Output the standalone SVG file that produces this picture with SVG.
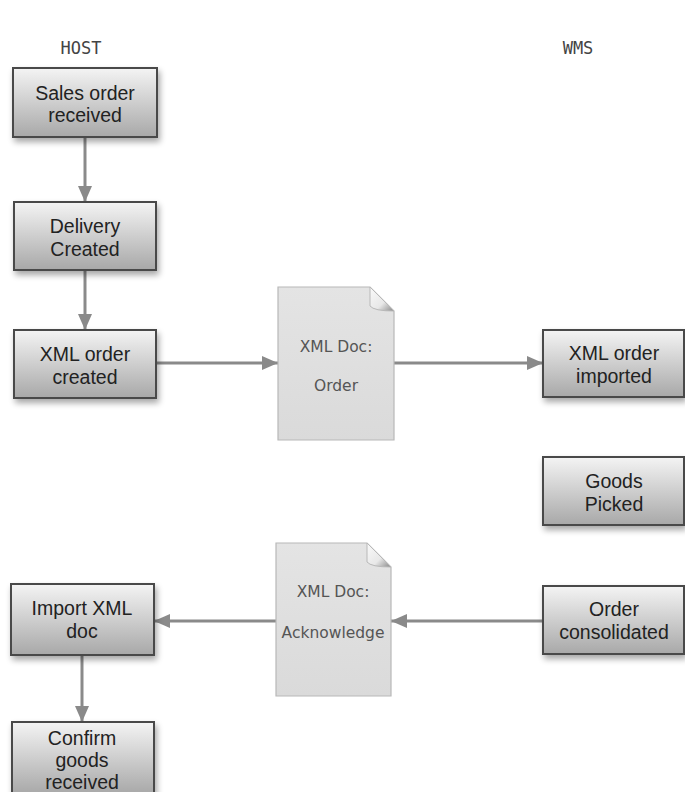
<svg xmlns="http://www.w3.org/2000/svg" width="685" height="792" viewBox="0 0 685 792">
<style>
.box{fill:url(#bg);stroke:#4a4a4a;stroke-width:2;filter:url(#sh)}
.bt{font-family:"Liberation Sans",Arial,sans-serif;font-size:19.5px;fill:#222;text-anchor:middle}
.doc{fill:url(#dg);stroke:#b8b8b8;stroke-width:1.2}
.dt{font-family:"DejaVu Sans",sans-serif;font-size:15.5px;fill:#555;text-anchor:middle}
.lane{font-family:"DejaVu Sans Mono",monospace;font-size:17px;fill:#444;text-anchor:middle}
.c{stroke:#8a8a8a;stroke-width:3;fill:none;marker-end:url(#ah)}
</style>
<defs>
<linearGradient id="bg" x1="0" y1="0" x2="0" y2="1"><stop offset="0" stop-color="#f4f4f4"/><stop offset="1" stop-color="#a8a8a8"/></linearGradient>
<linearGradient id="dg" x1="0" y1="0" x2="0" y2="1"><stop offset="0" stop-color="#e4e4e4"/><stop offset="1" stop-color="#dadada"/></linearGradient>
<linearGradient id="fold" x1="0" y1="0" x2="1" y2="1"><stop offset="0" stop-color="#fafafa"/><stop offset="0.6" stop-color="#e8e8e8"/><stop offset="1" stop-color="#888"/></linearGradient>
<filter id="sh" x="-20%" y="-20%" width="150%" height="160%"><feGaussianBlur in="SourceAlpha" stdDeviation="3"/><feOffset dx="2" dy="4"/><feComponentTransfer><feFuncA type="linear" slope="0.35"/></feComponentTransfer><feMerge><feMergeNode/><feMergeNode in="SourceGraphic"/></feMerge></filter>
<marker id="ah" viewBox="0 0 16 14" refX="16" refY="7" markerWidth="16" markerHeight="14" markerUnits="userSpaceOnUse" orient="auto"><path d="M0,0 L16,7 L0,14 z" fill="#8a8a8a"/></marker>
</defs>
<rect width="685" height="792" fill="#fff"/>
<text class="lane" x="81" y="54">HOST</text>
<text class="lane" x="578" y="54">WMS</text>
<g id="connectors">
<line class="c" x1="85" y1="138" x2="85" y2="202"/>
<line class="c" x1="85" y1="271" x2="85" y2="330"/>
<line class="c" x1="157" y1="363" x2="278" y2="363"/>
<line class="c" x1="394" y1="363" x2="543" y2="363"/>
<line class="c" x1="543" y1="621" x2="391" y2="621"/>
<line class="c" x1="276" y1="621" x2="154" y2="621"/>
<line class="c" x1="82" y1="656" x2="82" y2="722"/>
</g>
<g id="n1"><rect class="box" x="13" y="68" width="144" height="69"/><text class="bt" x="85" y="100">Sales order</text><text class="bt" x="85" y="122">received</text></g>
<g id="n2"><rect class="box" x="14" y="202" width="142" height="68"/><text class="bt" x="85" y="233">Delivery</text><text class="bt" x="85" y="256">Created</text></g>
<g id="n3"><rect class="box" x="14" y="330" width="142" height="68"/><text class="bt" x="85" y="361">XML order</text><text class="bt" x="85" y="384">created</text></g>
<g id="d1"><path class="doc" d="M278,287 L370,287 L394,311 L394,440 L278,440 Z"/><path d="M370,287 L370,306 Q374,311 394,311 Z" fill="url(#fold)" stroke="#b8b8b8" stroke-width="1"/><text class="dt" x="336" y="352">XML Doc:</text><text class="dt" x="336" y="391">Order</text></g>
<g id="n4"><rect class="box" x="543" y="330" width="141" height="67"/><text class="bt" x="614" y="360">XML order</text><text class="bt" x="614" y="383">imported</text></g>
<g id="n5"><rect class="box" x="543" y="457" width="141" height="68"/><text class="bt" x="614" y="488">Goods</text><text class="bt" x="614" y="511">Picked</text></g>
<g id="n6"><rect class="box" x="543" y="586" width="141" height="68"/><text class="bt" x="614" y="616">Order</text><text class="bt" x="614" y="639">consolidated</text></g>
<g id="d2"><path class="doc" d="M276,543 L367,543 L391,567 L391,696 L276,696 Z"/><path d="M367,543 L367,562 Q371,567 391,567 Z" fill="url(#fold)" stroke="#b8b8b8" stroke-width="1"/><text class="dt" x="333" y="597">XML Doc:</text><text class="dt" x="333" y="638">Acknowledge</text></g>
<g id="n7"><rect class="box" x="11" y="584" width="143" height="71"/><text class="bt" x="82" y="615">Import XML</text><text class="bt" x="82" y="638">doc</text></g>
<g id="n8"><rect class="box" x="12" y="722" width="142" height="72"/><text class="bt" x="82" y="745">Confirm</text><text class="bt" x="82" y="767">goods</text><text class="bt" x="82" y="789">received</text></g>
</svg>
